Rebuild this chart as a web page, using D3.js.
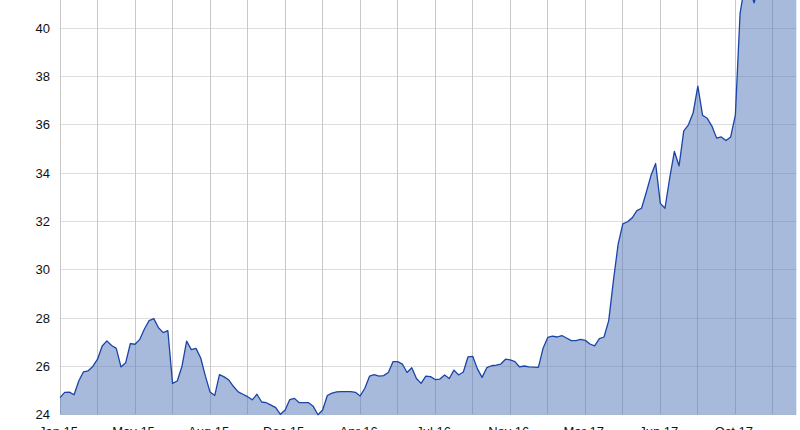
<!DOCTYPE html>
<html>
<head>
<meta charset="utf-8">
<script src="https://cdn.jsdelivr.net/npm/d3@7"></script>
<style>
  html, body { margin: 0; padding: 0; background: #fff; }
  svg { display: block; }
  text { font-family: "Liberation Sans", Arial, sans-serif; font-size: 13px; fill: #111; }
</style>
</head>
<body>
<svg id="chart" width="800" height="430"></svg>
<script>
// Weekly values (first week of Jan 2015 onwards)
const values = [
  24.71, 24.93, 24.94, 24.83, 25.40, 25.78, 25.82, 26.00, 26.30, 26.85,
  27.06, 26.87, 26.75, 25.98, 26.15, 26.95, 26.92, 27.12, 27.55, 27.90,
  27.98, 27.60, 27.40, 27.48, 25.30, 25.40, 26.00, 27.05, 26.70, 26.75,
  26.35, 25.60, 24.94, 24.80, 25.66, 25.57, 25.44, 25.17, 24.95, 24.85,
  24.75, 24.62, 24.85, 24.53, 24.50, 24.40, 24.30, 24.02, 24.20, 24.63,
  24.68, 24.50, 24.50, 24.50, 24.35, 24.00, 24.20, 24.80, 24.90, 24.95,
  24.96, 24.96, 24.96, 24.93, 24.78, 25.10, 25.60, 25.66, 25.60, 25.62,
  25.75, 26.20, 26.20, 26.10, 25.75, 25.95, 25.50, 25.30, 25.60, 25.58,
  25.46, 25.48, 25.65, 25.50, 25.85, 25.65, 25.77, 26.40, 26.42, 25.90,
  25.55, 25.95, 26.03, 26.06, 26.10, 26.30, 26.27, 26.20, 25.98, 26.02,
  25.98, 25.97, 25.96, 26.75, 27.20, 27.26, 27.22, 27.28, 27.18, 27.07,
  27.07, 27.12, 27.08, 26.93, 26.85, 27.15, 27.22, 27.90, 29.55, 31.05,
  31.90, 31.99, 32.15, 32.45, 32.55, 33.20, 33.90, 34.40, 32.75, 32.55,
  33.80, 34.90, 34.30, 35.75, 36.00, 36.50, 37.60, 36.40, 36.27, 35.95,
  35.45, 35.50, 35.35, 35.50, 36.40, 40.60, 41.80, 41.60, 41.05, 41.80,
  42.20, 42.00, 42.50, 42.30, 42.80, 42.60, 43.00, 42.80
];
// Category axis tick labels (one every 16 weeks)
const tickLabels = ["Jan 15", "May 15", "Aug 15", "Dec 15", "Apr 16", "Jul 16", "Nov 16", "Mar 17", "Jun 17", "Oct 17"];
const yTicks = [24, 26, 28, 30, 32, 34, 36, 38, 40];
const labelEvery = 16;
const gridEvery = 8;

const svg = d3.select("#chart");
const n = values.length;
const left = 60, right = 60 + 4.69 * (n - 1);
const x = d3.scaleLinear().domain([0, n - 1]).range([left, right]);
const y = d3.scaleLinear().domain([24, 40]).range([414.8, 28.2]);
const crisp = v => Math.floor(v) + 0.5;

// horizontal gridlines
svg.append("g").selectAll("line").data(yTicks).join("line")
  .attr("x1", left).attr("x2", right)
  .attr("y1", d => crisp(y(d))).attr("y2", d => crisp(y(d)))
  .attr("stroke", "#dddddd").attr("stroke-width", 1);

// vertical gridlines
const vIdx = d3.range(0, n, gridEvery);
svg.append("g").selectAll("line").data(vIdx).join("line")
  .attr("x1", d => crisp(x(d))).attr("x2", d => crisp(x(d)))
  .attr("y1", 0).attr("y2", crisp(y(24)))
  .attr("stroke", "#c8c8c8").attr("stroke-width", 1);

// area
const area = d3.area().x((d, i) => x(i)).y0(y(24)).y1(d => y(d));
svg.append("path").datum(values).attr("d", area)
  .attr("fill", "#5b7dbb").attr("fill-opacity", 0.53);

const line = d3.line().x((d, i) => x(i)).y(d => y(d));
svg.append("path").datum(values).attr("d", line)
  .attr("fill", "none").attr("stroke", "#1a44a8").attr("stroke-width", 1.3)
  .attr("stroke-linejoin", "round");

// y labels
svg.append("g").selectAll("text").data(yTicks).join("text")
  .attr("x", 50).attr("y", d => y(d)).attr("dy", "0.35em")
  .attr("text-anchor", "end").text(d => d);

// x labels
svg.append("g").selectAll("text").data(tickLabels).join("text")
  .attr("x", (d, i) => x(i * labelEvery) - 1.5).attr("y", 436)
  .attr("text-anchor", "middle").text(d => d);
</script>
</body>
</html>
